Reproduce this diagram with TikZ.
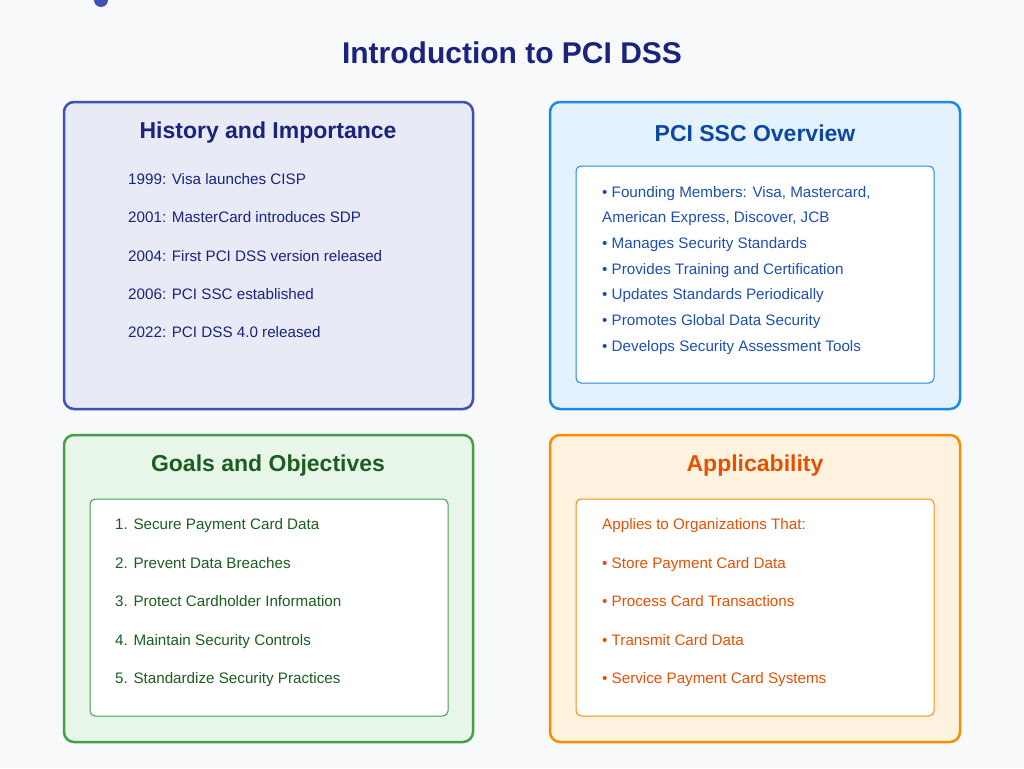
\documentclass[tikz,border=0pt]{standalone}
\usepackage{fontspec}
\setmainfont{Liberation Sans}
\usetikzlibrary{positioning}
\definecolor{bg}{HTML}{F8F9FA}
\definecolor{navy}{HTML}{1A237E}
\definecolor{indigo}{HTML}{3F51B5}
\definecolor{lavender}{HTML}{E8EAF6}
\definecolor{skyfill}{HTML}{E3F2FD}
\definecolor{skyline}{HTML}{1E88E5}
\definecolor{skytext}{HTML}{0D47A1}
\definecolor{skybody}{HTML}{1E4FB0}
\definecolor{mintfill}{HTML}{E8F5E9}
\definecolor{mintline}{HTML}{43A047}
\definecolor{minttext}{HTML}{1B5E20}
\definecolor{peachfill}{HTML}{FFF3E0}
\definecolor{peachline}{HTML}{FB8C00}
\definecolor{peachtext}{HTML}{E65100}

\begin{document}
\begin{tikzpicture}
		[x=1pt, y=-1pt,
		panel/.style={draw, line width=2.5pt, rounded corners=10pt},
		inner/.style={draw=#1, fill=white, line width=1pt, rounded corners=5pt},
		heading/.style={font=\fontsize{23}{27}\selectfont\bfseries, anchor=center},
		item/.style={font=\fontsize{15.2}{18}\selectfont, anchor=west, inner sep=0pt,
			text height=11pt, text depth=3pt}]
		\fill[bg] (0,0) rectangle (1024,768);
		\useasboundingbox (0,0) rectangle (1024,768);
		\fill[indigo] (101,0) circle (7);

		\node[font=\fontsize{30}{34}\selectfont\bfseries, text=navy] (title) at (512,53) {Introduction to PCI DSS};

		% history
		\draw[panel, draw=indigo, fill=lavender] (64,102) rectangle (473,409);
		\node[heading, text=navy] (hist) at (268,133) {History and Importance};
		\foreach \y/\t [count=\i] in {180/1999: Visa launches CISP, 218/2001: MasterCard introduces SDP,
			257/2004: First PCI DSS version released, 295/2006: PCI SSC established, 333/2022: PCI DSS 4.0 released}
			\node[item, text=navy] (hist\i) at (128,\y) {\t};

		% overview
		\draw[panel, draw=skyline, fill=skyfill] (550,102) rectangle (960,409);
		\node[heading, text=skytext] (ssc) at (755,133) {PCI SSC Overview};
		\draw[inner=skyline] (576,166) rectangle (934,383);
		\foreach \y/\t [count=\i] in {193/• Founding Members: Visa{,} Mastercard{,}, 218/American Express{,} Discover{,} JCB,
			244/• Manages Security Standards, 270/• Provides Training and Certification,
			295/• Updates Standards Periodically, 321/• Promotes Global Data Security, 347/• Develops Security Assessment Tools}
			\node[item, text=skybody] (ssc\i) at (602,\y) {\t};

		% goals
		\draw[panel, draw=mintline, fill=mintfill] (64,435) rectangle (473,742);
		\node[heading, text=minttext] (goals) at (268,466) {Goals and Objectives};
		\draw[inner=mintline] (90,499) rectangle (448,716);
		\foreach \y/\t [count=\i] in {525/1. Secure Payment Card Data, 564/2. Prevent Data Breaches,
			602/3. Protect Cardholder Information, 641/4. Maintain Security Controls, 679/5. Standardize Security Practices}
			\node[item, text=minttext] (goals\i) at (115,\y) {\t};

		% applicability
		\draw[panel, draw=peachline, fill=peachfill] (550,435) rectangle (960,742);
		\node[heading, text=peachtext] (appl) at (755,466) {Applicability};
		\draw[inner=peachline] (576,499) rectangle (934,716);
		\foreach \y/\t [count=\i] in {525/Applies to Organizations That:, 564/• Store Payment Card Data,
			602/• Process Card Transactions, 641/• Transmit Card Data, 679/• Service Payment Card Systems}
			\node[item, text=peachtext] (appl\i) at (602,\y) {\t};
	\end{tikzpicture}
\end{document}
